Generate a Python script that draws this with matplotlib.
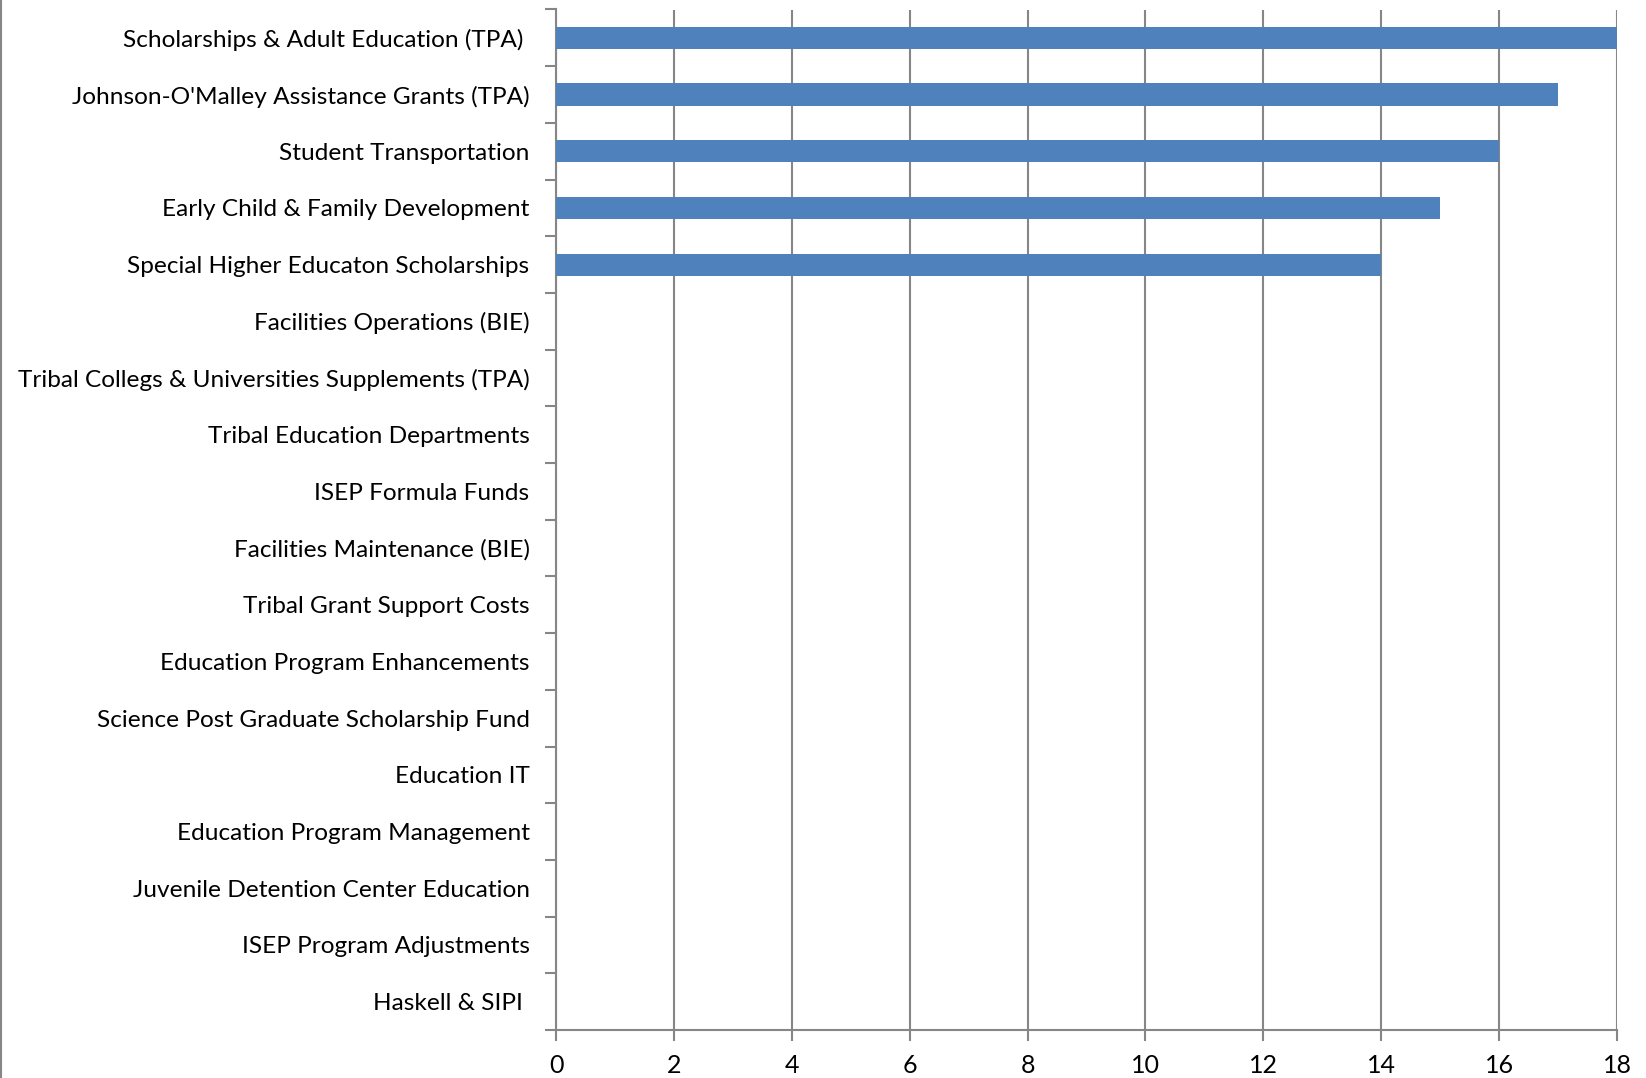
import numpy as np
import matplotlib.pyplot as plt
from matplotlib.lines import Line2D

programs = [
    "Scholarships & Adult Education (TPA) ",
    "Johnson-O'Malley Assistance Grants (TPA)",
    "Student Transportation",
    "Early Child & Family Development",
    "Special Higher Educaton Scholarships",
    "Facilities Operations (BIE)",
    "Tribal Collegs & Universities Supplements (TPA)",
    "Tribal Education Departments",
    "ISEP Formula Funds",
    "Facilities Maintenance (BIE)",
    "Tribal Grant Support Costs",
    "Education Program Enhancements",
    "Science Post Graduate Scholarship Fund",
    "Education IT",
    "Education Program Management",
    "Juvenile Detention Center Education",
    "ISEP Program Adjustments",
    "Haskell & SIPI ",
]
values = [18, 17, 16, 15, 14, 0, 0, 0, 0, 0, 0, 0, 0, 0, 0, 0, 0, 0]
xticks = np.arange(0, 19, 2)

grey = "#868686"
plt.rcParams["font.family"] = ["Lato", "DejaVu Sans"]

fig = plt.figure(figsize=(16.46, 10.78), dpi=100)
ax = fig.add_axes([556 / 1646, 1 - 1030 / 1078, (1617 - 556) / 1646, (1030 - 9.5) / 1078])

ypos = np.arange(len(programs))
ax.barh(ypos, values, height=0.39, color="#4F81BD", zorder=3)

ax.set_xlim(0, 18)
ax.set_ylim(len(programs) - 0.5, -0.5)
ax.set_xticks(xticks)
ax.set_xticklabels([str(t) for t in xticks], fontsize=18)
ax.set_yticks(ypos)
ax.set_yticklabels(programs, fontsize=17.6)
ax.set_yticks(np.arange(-0.5, len(programs), 1), minor=True)

ax.tick_params(axis="y", which="major", length=0, pad=19)
ax.tick_params(axis="y", which="minor", length=8, width=1.5, color=grey, direction="out")
ax.tick_params(axis="x", length=8, width=1.5, color=grey, direction="out", pad=9)

ax.grid(axis="x", color=grey, linewidth=1.5, zorder=0)
for side in ["top", "right"]:
    ax.spines[side].set_visible(False)
for side in ["left", "bottom"]:
    ax.spines[side].set_color(grey)
    ax.spines[side].set_linewidth(1.5)

# thin border down the left edge of the chart area
fig.add_artist(Line2D([0.0008, 0.0008], [0, 1], color=grey, linewidth=1.5))

fig.savefig("out.png", dpi=100)
